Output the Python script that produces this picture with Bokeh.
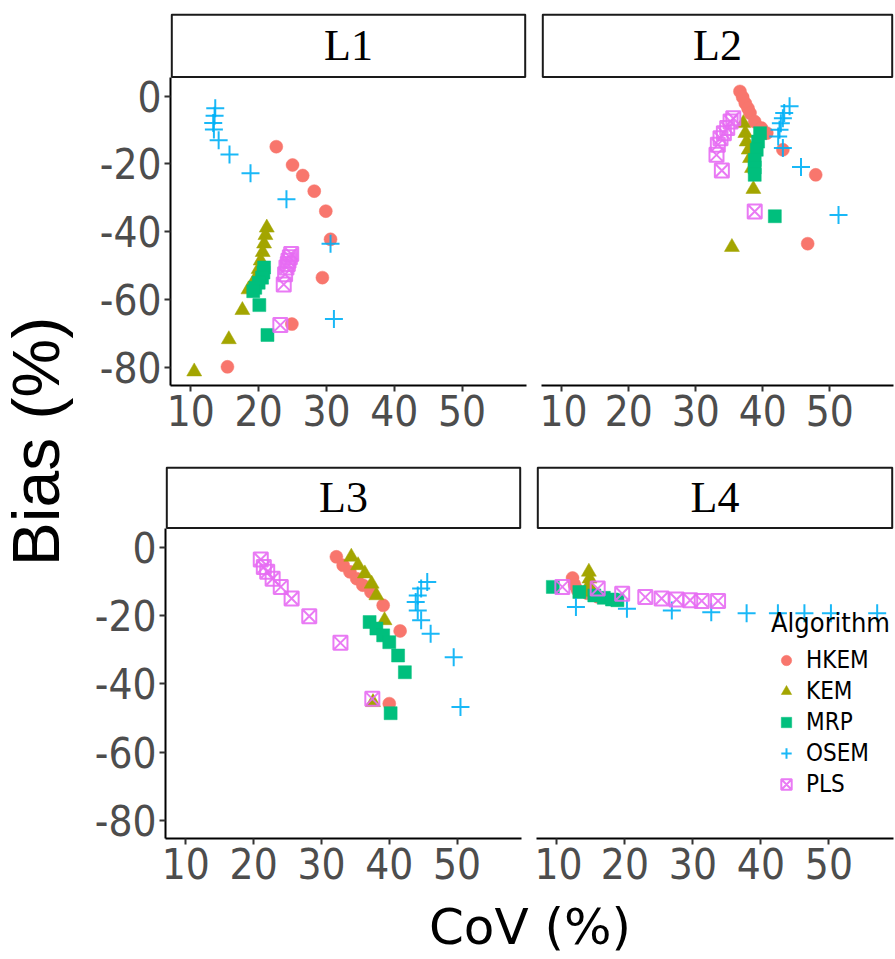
import numpy as np
from bokeh.plotting import figure
from bokeh.layouts import row, column
from bokeh.models import (Spacer, Range1d, Legend, LegendItem, FixedTicker,
                          BoxAnnotation, Label)
from bokeh.core.properties import value
from bokeh.embed import file_html
from bokeh.resources import INLINE

# ---------------- data (CoV %, Bias %) ----------------
algorithms = ["HKEM", "KEM", "MRP", "OSEM", "PLS"]
colors = ["#F8766D", "#A3A500", "#00BF7D", "#00B0F6", "#E76BF3"]
markers = ["circle", "triangle", "square", "cross", "square_x"]
panels = ["L1", "L2", "L3", "L4"]
x_ticks = [10, 20, 30, 40, 50]
y_ticks = [0, -20, -40, -60, -80]
y_tick_labels = ["0", "-20", "-40", "-60", "-80"]

L1_HKEM_cov = [22.6, 25.0, 26.5, 28.2, 29.9, 30.6, 29.4, 24.9, 15.4]
L1_HKEM_bias = [-14.9, -20.3, -23.4, -28.0, -33.9, -42.2, -53.5, -67.2, -79.8]
L1_KEM_cov = [21.2, 21.0, 20.8, 20.6, 20.3, 20.0, 19.6, 19.1, 18.5, 17.6, 15.6, 10.5]
L1_KEM_bias = [-38.8, -41.0, -43.5, -46.0, -48.5, -51.0, -53.5, -55.5, -57.0, -63.1, -71.7, -81.2]
L1_MRP_cov = [20.8, 20.7, 20.5, 20.0, 19.5, 19.2, 20.1, 21.3]
L1_MRP_bias = [-50.5, -52.0, -53.5, -55.0, -56.5, -57.5, -61.6, -70.4]
L1_OSEM_cov = [13.6, 13.5, 13.3, 13.4, 14.1, 15.7, 18.8, 24.1, 30.6, 31.1]
L1_OSEM_bias = [-3.6, -5.8, -7.9, -9.8, -13.0, -17.2, -22.7, -30.4, -43.5, -65.7]
L1_PLS_cov = [24.8, 24.6, 24.4, 24.3, 24.1, 23.9, 23.7, 23.2]
L1_PLS_bias = [-46.5, -47.5, -48.5, -49.5, -50.5, -52.5, -55.5, -67.5]

L2_HKEM_cov = [36.6, 37.0, 37.4, 37.8, 38.1, 38.8, 39.8, 40.6, 43.0, 47.9, 46.7]
L2_HKEM_bias = [1.4, -0.3, -2.1, -3.6, -5.0, -7.5, -9.4, -10.9, -15.8, -23.2, -43.5]
L2_KEM_cov = [37.1, 37.4, 37.6, 37.9, 38.1, 38.4, 38.6, 35.4]
L2_KEM_bias = [-8.0, -10.9, -13.4, -15.8, -18.3, -21.2, -27.4, -44.5]
L2_MRP_cov = [39.6, 39.3, 39.1, 38.8, 38.8, 38.8, 41.8]
L2_MRP_bias = [-10.9, -13.4, -15.8, -18.8, -21.0, -23.2, -35.4]
L2_OSEM_cov = [44.0, 43.2, 43.0, 42.7, 42.5, 42.3, 43.0, 45.7, 51.3]
L2_OSEM_bias = [-3.0, -5.0, -6.5, -8.0, -9.9, -11.9, -15.3, -20.9, -35.0]
L2_PLS_cov = [35.6, 35.2, 34.7, 34.2, 33.7, 33.3, 33.1, 33.9, 38.8]
L2_PLS_bias = [-6.5, -7.5, -9.4, -10.9, -12.4, -14.3, -17.3, -21.9, -34.0]

L3_HKEM_cov = [32.2, 33.2, 34.2, 35.2, 36.1, 37.3, 39.1, 41.6, 40.0]
L3_HKEM_bias = [-2.8, -5.3, -7.2, -9.2, -11.1, -13.1, -17.0, -24.5, -45.8]
L3_KEM_cov = [34.4, 35.4, 36.4, 37.4, 38.1, 39.3, 37.6]
L3_KEM_bias = [-2.8, -5.3, -7.7, -10.7, -14.1, -21.4, -45.4]
L3_MRP_cov = [37.1, 38.1, 39.1, 40.0, 41.3, 42.3, 40.2]
L3_MRP_bias = [-21.9, -23.8, -25.8, -27.8, -31.7, -36.6, -48.6]
L3_OSEM_cov = [45.6, 44.7, 44.2, 43.9, 44.2, 44.7, 46.1, 49.5, 50.5]
L3_OSEM_bias = [-10.2, -12.1, -14.1, -16.0, -18.5, -21.4, -25.3, -32.2, -46.8]
L3_PLS_cov = [21.05, 21.5, 22.0, 22.8, 24.0, 25.6, 28.2, 32.8, 37.5]
L3_PLS_bias = [-3.6, -5.8, -7.2, -9.2, -11.6, -15.0, -20.2, -28.0, -44.4]

L4_HKEM_cov = [12.3, 12.6, 13.0, 14.5, 16.0]
L4_HKEM_bias = [-9.0, -11.0, -12.5, -13.5, -14.5]
L4_KEM_cov = [14.7, 14.8, 14.7, 14.5]
L4_KEM_bias = [-7.2, -9.2, -11.1, -13.1]
L4_MRP_cov = [9.4, 13.3, 15.5, 16.9, 18.1, 18.9]
L4_MRP_bias = [-11.6, -13.1, -14.1, -14.8, -15.3, -15.5]
L4_OSEM_cov = [12.8, 20.3, 26.9, 32.7, 37.9, 42.5, 46.4, 50.3, 57.1]
L4_OSEM_bias = [-17.5, -18.0, -18.5, -19.0, -19.3, -19.3, -19.3, -19.3, -19.3]
L4_PLS_cov = [10.8, 16.0, 19.6, 23.0, 25.4, 27.6, 29.6, 31.3, 33.7]
L4_PLS_bias = [-11.6, -12.1, -13.6, -14.6, -15.0, -15.3, -15.5, -15.7, -15.7]

DATA = globals()

# ---------------- styling ----------------
SANS = "'DejaVu Sans Condensed', 'Liberation Sans', sans-serif"
SANS_V = "'Liberation Sans', sans-serif"
SANS_X = "'DejaVu Sans', sans-serif"
SERIF = "'Liberation Serif', serif"
TICK_COLOR = "#4D4D4D"
XR = (7.0, 59.5)
YR = (-85.3, 5.5)


def text_fig(w, h):
    f = figure(width=w, height=h, x_range=Range1d(0, w), y_range=Range1d(0, h),
               x_axis_location=None, y_axis_location=None, min_border=0,
               output_backend="svg", toolbar_location=None)
    f.grid.visible = False
    f.outline_line_color = None
    return f


def panel(name, show_y, frame_w, data_h, strip_h, ml, mb):
    # the frame holds the facet strip on top of the data area
    per_py = (YR[1] - YR[0]) / data_h
    per_px = (XR[1] - XR[0]) / frame_w
    y_top = YR[1] + strip_h * per_py
    p = figure(frame_width=frame_w, frame_height=data_h + strip_h,
               x_range=Range1d(*XR), y_range=Range1d(YR[0], y_top),
               y_axis_location="left" if show_y else None,
               min_border_left=ml, min_border_right=2, min_border_top=1,
               min_border_bottom=mb, output_backend="svg", toolbar_location=None)
    p.grid.visible = False
    p.outline_line_color = None
    axes = [p.xaxis[0]] + ([p.yaxis[0]] if show_y else [])
    for ax in axes:
        ax.axis_line_color = "black"
        ax.axis_line_width = 2
        ax.major_tick_line_color = "#333333"
        ax.major_tick_line_width = 2
        ax.major_tick_out = 6
        ax.major_tick_in = 0
        ax.minor_tick_line_color = None
        ax.major_label_text_font = SANS
        ax.major_label_text_font_size = "42px"
        ax.major_label_text_color = TICK_COLOR
        ax.major_label_standoff = 3
    p.xaxis.ticker = FixedTicker(ticks=x_ticks)
    p.xaxis.major_label_overrides = {t: str(t) for t in x_ticks}
    if show_y:
        p.yaxis.ticker = FixedTicker(ticks=y_ticks)
        p.yaxis.major_label_overrides = dict(zip(y_ticks, y_tick_labels))
        p.yaxis.bounds = YR

    # facet strip (inset by one pixel so its border is not clipped)
    p.add_layout(BoxAnnotation(left=XR[0] + 1.2 * per_px, right=XR[1] - 1.2 * per_px,
                               bottom=YR[1] + 0.5 * per_py, top=y_top - 1.2 * per_py,
                               fill_color="white", fill_alpha=1.0,
                               line_color="#1A1A1A", line_width=2.2, line_alpha=1.0))
    p.add_layout(Label(x=(XR[0] + XR[1]) / 2, y=YR[1] + strip_h * per_py / 2, text=name,
                       text_align="center", text_baseline="middle",
                       text_font=SERIF, text_font_size="44px", text_color="black"))

    renderers = []
    for alg, col, mk in zip(algorithms, colors, markers):
        xs = DATA[f"{name}_{alg}_cov"]
        ys = DATA[f"{name}_{alg}_bias"]
        if mk in ("cross", "square_x"):
            r = p.scatter(xs, ys, marker=mk, size=18 if mk == "cross" else 14,
                          fill_color=None, line_color=col, line_width=2, line_alpha=0.9)
        else:
            r = p.scatter(xs, ys, marker=mk, size=13 if mk != "triangle" else 15,
                          fill_color=col, line_color=col, line_width=0.5)
        renderers.append(r)
    return p, renderers


# ---------------- layout ----------------
YT_W = 78
LEFT_T = 92
LEFT_B = 87
GAP = 11
TOP = 12

pL1, _ = panel("L1", True, 356, 308, 64, LEFT_T, 80)
pL2, _ = panel("L2", False, 352, 308, 64, 2, 80)
pL3, _ = panel("L3", True, 356, 310, 62, LEFT_B, 58)
pL4, rL4 = panel("L4", False, 357, 310, 62, 2, 58)

legend = Legend(items=[LegendItem(label=a, renderers=[r]) for a, r in zip(algorithms, rL4)],
                location=(235, 40), title="Algorithm",
                title_text_font=SANS, title_text_font_size="27px", title_text_color="black",
                title_text_font_style="normal",
                label_text_font=SANS, label_text_font_size="24px", label_text_color="black",
                background_fill_alpha=0, border_line_color=None,
                glyph_width=30, glyph_height=26, spacing=3, padding=0, margin=0,
                label_standoff=5, title_standoff=8, label_height=26)
pL4.add_layout(legend)

right_w = LEFT_B + 356 + 2 + GAP + 2 + 357 + 2
right_col = column(
    Spacer(height=TOP),
    row(pL1, Spacer(width=GAP), pL2),
    row(pL3, Spacer(width=GAP), pL4),
)

body_h = TOP + (1 + 372 + 80) + (1 + 372 + 58)
XT_H = 60
ytitle = text_fig(YT_W, body_h + XT_H)
ytitle.text(x=[35], y=[body_h + XT_H - 441], text=["Bias (%)"], angle=np.pi / 2,
            text_align="center", text_baseline="middle", text_font=value(SANS_V),
            text_font_size="66px", text_color="black")

xtitle = text_fig(right_w, XT_H)
xtitle.text(x=[(LEFT_B + 1 + 893 - YT_W) / 2], y=[XT_H - 30], text=["CoV (%)"],
            text_align="center", text_baseline="middle",
            text_font=value(SANS_X), text_font_size="50px", text_color="black")

root = row(ytitle, column(right_col, xtitle))

open("out.html", "w").write(file_html(root, INLINE))
